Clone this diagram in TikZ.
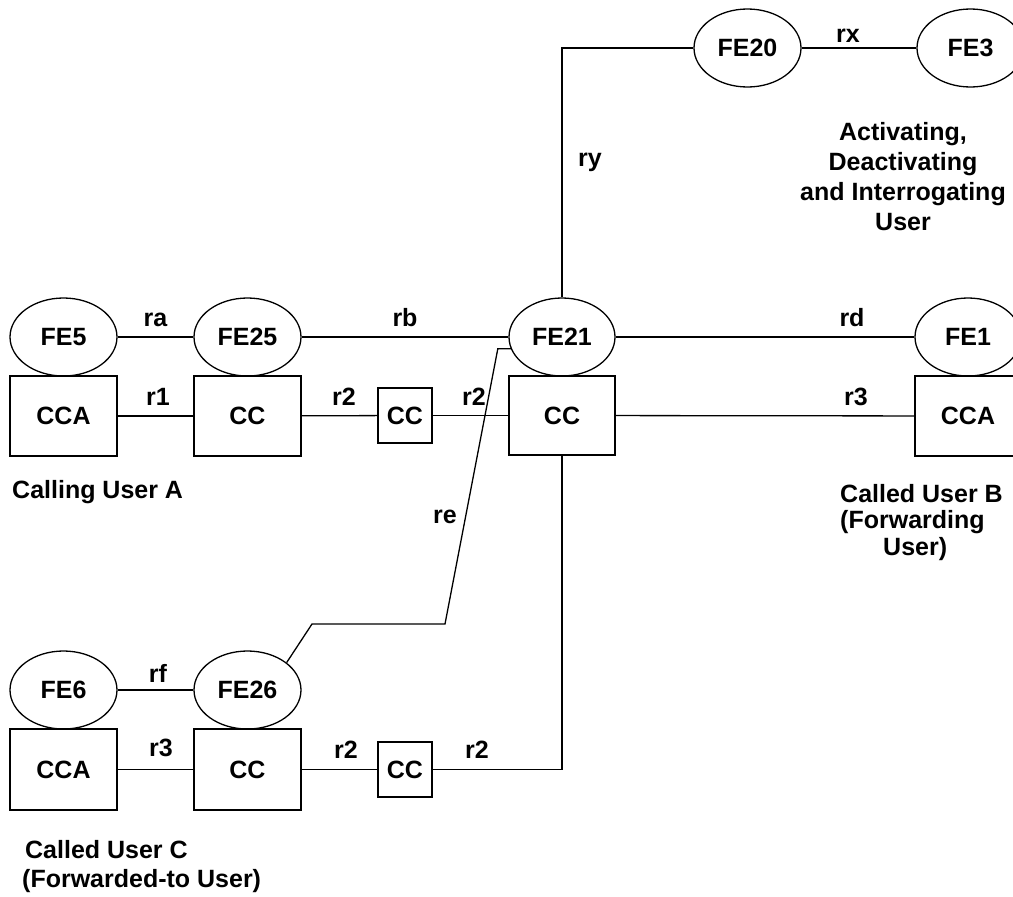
\documentclass[tikz,border=0pt]{standalone}
\usepackage{fontspec}
\setmainfont{Liberation Sans}
\usetikzlibrary{shapes.geometric}
\begin{document}
\begin{tikzpicture}[x=1pt,y=-1pt,
  every node/.style={font=\fontsize{25}{30}\selectfont\bfseries},
  fe/.style={ellipse, draw, line width=1.3pt, minimum width=107pt, minimum height=78pt, inner sep=0pt},
  bx/.style={rectangle, draw, line width=1.3pt, minimum width=107pt, minimum height=80pt, inner sep=0pt},
  sbx/.style={rectangle, draw, line width=1.3pt, minimum width=54pt, minimum height=55pt, inner sep=0pt},
  lbl/.style={inner sep=0pt, anchor=base},
  txt/.style={inner sep=0pt, anchor=base west},
  ctxt/.style={inner sep=0pt, anchor=base},
  ln/.style={line width=1.3pt},
]
\useasboundingbox (0,0) rectangle (1013,897);
\clip (0,0) rectangle (1013,897);

% top row (calling user A and forwarding user B)
\node[fe] (FE5)  at (63.5,337) {FE5};
\node[fe] (FE25) at (247.5,337) {FE25};
\node[fe, minimum width=106pt] (FE21) at (562,337) {FE21};
\node[fe, minimum width=106pt] (FE1)  at (968,337) {FE1};
\node[bx] (CCAa) at (63.5,416) {CCA};
\node[bx] (CCa)  at (247.5,416) {CC};
\node[sbx] (sCCa) at (405,415.5) {CC};
\node[bx, minimum width=106pt, minimum height=79pt] (CC21) at (562,415.5) {CC};
\node[bx, minimum width=106pt] (CCAb) at (968,416) {CCA};

% top (activating user)
\node[fe] (FE20) at (747.5,48) {FE20};
\node[fe] (FE3)  at (970.5,48) {FE3};

% bottom row (forwarded-to user C)
\node[fe] (FE6)  at (63.5,690) {FE6};
\node[fe] (FE26) at (247.5,690) {FE26};
\node[bx, minimum height=81pt] (CCAc) at (63.5,769.5) {CCA};
\node[bx, minimum height=81pt] (CCc)  at (247.5,769.5) {CC};
\node[sbx] (sCCc) at (405,769.5) {CC};

% connectors
\draw[ln] (FE5) -- (FE25);
\draw[ln] (FE25) -- (FE21);
\draw[ln] (FE21) -- (FE1);
\draw[ln] (CCAa) -- (CCa);
\draw[ln] (CCa) -- (sCCa);
\draw[ln] (sCCa) -- (CC21);
\draw[ln] (CC21) -- (CCAb);
\draw[ln] (FE20) -- (FE3);
\draw[ln] (FE21.north) |- (FE20.west);
\draw[ln] (CC21.south) |- (sCCc.east);
\draw[ln] (FE6) -- (FE26);
\draw[ln] (CCAc) -- (CCc);
\draw[ln] (CCc) -- (sCCc);
\draw[ln] (FE21.193) -- ++(-13,0) -- (445,624) -- (312,624) -- (FE26.35);

% connector labels
\node[lbl] (lra) at (155.5,326) {ra};
\node[lbl] (lrb) at (405,326) {rb};
\node[lbl] (lrd) at (852,326) {rd};
\node[lbl] (lr1) at (158,405) {r1};
\node[lbl] (lr2a) at (344,405) {r2};
\node[lbl] (lr2b) at (474,405) {r2};
\node[lbl] (lr3b) at (856,405) {r3};
\node[lbl] (lrx) at (848,42) {rx};
\node[lbl] (lry) at (590,166) {ry};
\node[lbl] (lre) at (445,523) {re};
\node[lbl] (lrf) at (158,682) {rf};
\node[lbl] (lr3c) at (161,756) {r3};
\node[lbl] (lr2c) at (346,758) {r2};
\node[lbl] (lr2d) at (477,758) {r2};

% user captions
\node[txt] (tA) at (12,498) {Calling User A};
\node[txt] (tB1) at (840,502) {Called User B};
\node[txt] (tB2) at (840,528) {(Forwarding};
\node[txt] (tB3) at (883,555) {User)};
\node[ctxt] (tX1) at (903,140) {Activating,};
\node[ctxt] (tX2) at (903,170) {Deactivating};
\node[ctxt] (tX3) at (903,200) {and Interrogating};
\node[ctxt] (tX4) at (903,230) {User};
\node[txt] (tC1) at (25,858) {Called User C};
\node[txt] (tC2) at (22,887) {(Forwarded-to User)};
\end{tikzpicture}
\end{document}
